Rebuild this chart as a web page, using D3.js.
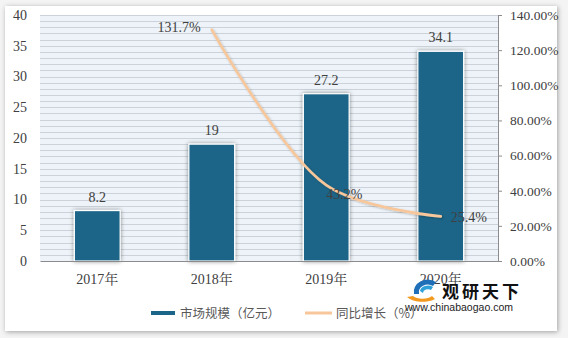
<!DOCTYPE html>
<html><head><meta charset="utf-8">
<script src="https://cdn.jsdelivr.net/npm/d3@7"></script>
<style>
html,body{margin:0;padding:0;background:#ffffff;}
svg{display:block;}
</style></head>
<body>
<svg id="chart" width="568" height="338"></svg>
<script>
const categories = ["2017年", "2018年", "2019年", "2020年"];
const marketSize = [8.2, 19, 27.2, 34.1];
const growth = [null, 131.7, 43.2, 25.4];
const growthLabels = ["", "131.7%", "43.2%", "25.4%"];
const leftTicks = [0, 5, 10, 15, 20, 25, 30, 35, 40];
const rightTicks = [0, 20, 40, 60, 80, 100, 120, 140];
const legendNames = ["市场规模（亿元）", "同比增长（%）"];

const svg = d3.select("#chart");
const W = 568, H = 338;
const m = {left: 40, right: 70, top: 15, bottom: 77};
const pw = W - m.left - m.right, ph = H - m.top - m.bottom;
const serif = "'Liberation Serif','Noto Serif CJK SC','Noto Sans CJK SC',serif";
const cjk = "'Noto Sans CJK SC',sans-serif";

const defs = svg.append("defs");
const f1 = defs.append("filter").attr("id","cardShadow").attr("x","-5%").attr("y","-5%").attr("width","110%").attr("height","110%");
f1.append("feDropShadow").attr("dx",1).attr("dy",1).attr("stdDeviation",2.5).attr("flood-color","#000").attr("flood-opacity",0.35);
const f2 = defs.append("filter").attr("id","barShadow").attr("x","-30%").attr("y","-30%").attr("width","160%").attr("height","160%");
f2.append("feDropShadow").attr("dx",0).attr("dy",0).attr("stdDeviation",2).attr("flood-color","#000").attr("flood-opacity",0.45);
const f3 = defs.append("filter").attr("id","lineShadow").attr("x","-10%").attr("y","-10%").attr("width","120%").attr("height","120%");
f3.append("feDropShadow").attr("dx",1).attr("dy",1).attr("stdDeviation",1).attr("flood-color","#000").attr("flood-opacity",0.25);

// card
svg.append("rect").attr("width",W).attr("height",H).attr("fill","#f4f4f4");
svg.append("rect").attr("x",5).attr("y",6).attr("width",552).attr("height",325)
  .attr("fill","#ffffff").attr("filter","url(#cardShadow)");

const g = svg.append("g").attr("transform",`translate(${m.left},${m.top})`);

const x = d3.scaleBand().domain(categories).range([0,pw]).paddingInner(0.6).paddingOuter(0.3);
const yL = d3.scaleLinear().domain([0,40]).range([ph,0]);
const yR = d3.scaleLinear().domain([0,140]).range([ph,0]);

// plot background + grid
g.append("rect").attr("width",pw).attr("height",ph).attr("fill","#edf3f8");
g.append("g").selectAll("line").data(d3.range(1,41)).join("line")
  .attr("x1",0).attr("x2",pw).attr("y1",d=>Math.round(yL(d))+0.5).attr("y2",d=>Math.round(yL(d))+0.5)
  .attr("stroke","#cbd2d9").attr("stroke-width",1);

// left axis
const axL = g.append("g").call(d3.axisLeft(yL).tickValues(leftTicks).tickSize(0).tickPadding(13));
axL.select(".domain").remove();
axL.selectAll("text").attr("font-family",serif).attr("font-size",14).attr("fill","#404040");

// right axis
const axR = g.append("g").attr("transform",`translate(${pw},0)`)
  .call(d3.axisRight(yR).tickValues(rightTicks).tickSize(4).tickPadding(8).tickFormat(d=>d.toFixed(2)+"%"));
axR.select(".domain").attr("stroke","#8c8c8c");
axR.selectAll(".tick line").attr("stroke","#8c8c8c");
axR.selectAll("text").attr("font-family",serif).attr("font-size",13.5).attr("fill","#404040");

// bars
g.append("g").selectAll("rect").data(marketSize).join("rect")
  .attr("x",(d,i)=>x(categories[i])).attr("width",x.bandwidth())
  .attr("y",d=>yL(d)).attr("height",d=>ph-yL(d))
  .attr("fill","#1b6588").attr("stroke","#ffffff").attr("stroke-width",1.2)
  .attr("filter","url(#barShadow)");

// bottom axis
const axB = g.append("g").attr("transform",`translate(0,${ph})`).call(d3.axisBottom(x).tickSize(0).tickPadding(13));
axB.select(".domain").attr("stroke","#8c8c8c");
axB.selectAll("text").attr("font-family",serif).attr("font-size",14).attr("fill","#404040");

// bar labels
g.append("g").selectAll("text").data(marketSize).join("text")
  .attr("x",(d,i)=>x(categories[i])+x.bandwidth()/2).attr("y",d=>yL(d)-9)
  .attr("text-anchor","middle").attr("font-family",serif).attr("font-size",14).attr("fill","#404040")
  .text(d=>String(d));

// line
const pts = growth.map((v,i)=>({c:categories[i],v})).filter(d=>d.v!==null);
const line = d3.line().x(d=>x(d.c)+x.bandwidth()/2).y(d=>yR(d.v)).curve(d3.curveCatmullRom.alpha(0.5));
g.append("path").datum(pts).attr("d",line).attr("fill","none")
  .attr("stroke","#f7c79b").attr("stroke-width",2.6).attr("stroke-linecap","round")
  .attr("filter","url(#lineShadow)");

// line labels
const labelOffsets = {"2018年":{dx:-11,dy:2,anchor:"end"},"2019年":{dx:0,dy:14,anchor:"start"},"2020年":{dx:10,dy:6,anchor:"start"}};
g.append("g").selectAll("text").data(pts).join("text")
  .attr("x",d=>x(d.c)+x.bandwidth()/2+labelOffsets[d.c].dx)
  .attr("y",d=>yR(d.v)+labelOffsets[d.c].dy)
  .attr("text-anchor",d=>labelOffsets[d.c].anchor)
  .attr("font-family",serif).attr("font-size",14).attr("fill","#404040")
  .text(d=>growthLabels[categories.indexOf(d.c)]);

// legend
const lg = svg.append("g");
lg.append("rect").attr("x",151).attr("y",311).attr("width",24).attr("height",4).attr("fill","#1b6588");
lg.append("text").attr("x",180).attr("y",318).attr("font-family",cjk).attr("font-size",12.5).attr("fill","#595959").text(legendNames[0]);
lg.append("line").attr("x1",305).attr("x2",332).attr("y1",313).attr("y2",313).attr("stroke","#f7c79b").attr("stroke-width",3);
lg.append("text").attr("x",336).attr("y",318).attr("font-family",cjk).attr("font-size",12.5).attr("fill","#595959").text(legendNames[1]);

// watermark
const wm = svg.append("g");
wm.append("path").attr("d","M414,294 a14,12 0 0 1 22,-12 l-3,4 a9,8 0 0 0 -14,8 z").attr("fill","#1e6fb8");
wm.append("path").attr("d","M407,297 a18,10 0 0 0 28,2 l-3,-3 a12,7 0 0 1 -19,0 z").attr("fill","#f29a1f");
wm.append("path").attr("d","M420,291 a8,6 0 0 1 13,-4 l-2,3 a5,4 0 0 0 -8,3 z").attr("fill","#2fa0d8");
wm.append("text").attr("x",442).attr("y",298).attr("font-family",cjk).attr("font-weight","bold").attr("font-size",17).attr("fill","#111").attr("letter-spacing",3).text("观研天下");
wm.append("text").attr("x",405).attr("y",311).attr("font-family","'Liberation Sans',Arial,sans-serif").attr("font-size",10.5).attr("fill","#222").text("www.chinabaogao.com");
</script>
</body></html>
